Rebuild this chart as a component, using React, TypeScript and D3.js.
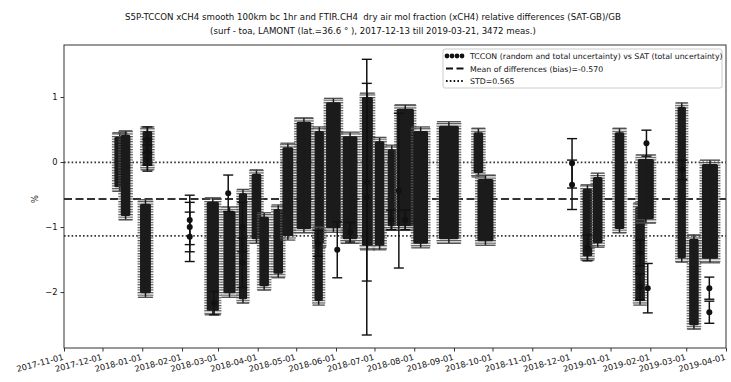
import React, { useEffect, useRef } from "react";
import * as d3 from "d3";

// blobs of many overlapping error bars: [first day, last day, top of bars, bottom of bars] in %
const clusters: [string, string, number, number][] = [
  ["2017-12-13", "2017-12-16", 0.45, -0.45],
  ["2017-12-18", "2017-12-20", 0.48, -0.89],
  ["2018-01-04", "2018-01-06", 0.54, -0.12],
  ["2018-01-02", "2018-01-05", -0.58, -2.08],
  ["2018-02-23", "2018-02-27", -0.55, -2.35],
  ["2018-03-08", "2018-03-12", -0.69, -2.08],
  ["2018-03-20", "2018-03-21", -0.42, -2.17],
  ["2018-03-30", "2018-04-01", -0.12, -1.25],
  ["2018-04-05", "2018-04-07", -0.78, -1.97],
  ["2018-04-16", "2018-04-18", -0.66, -1.78],
  ["2018-04-23", "2018-04-26", 0.29, -1.2],
  ["2018-05-04", "2018-05-10", 0.68, -1.09],
  ["2018-05-18", "2018-05-20", 0.54, -1.31],
  ["2018-05-18", "2018-05-19", -1.0, -2.2],
  ["2018-05-27", "2018-06-02", 0.98, -1.08],
  ["2018-06-09", "2018-06-15", 0.46, -1.25],
  ["2018-06-24", "2018-06-27", 1.06, -1.35],
  ["2018-07-04", "2018-07-06", 0.38, -1.35],
  ["2018-07-14", "2018-07-15", 0.26, -1.05],
  ["2018-07-21", "2018-07-29", 0.88, -1.05],
  ["2018-08-03", "2018-08-09", 0.54, -1.32],
  ["2018-08-23", "2018-09-02", 0.62, -1.25],
  ["2018-09-19", "2018-09-21", 0.52, -0.23],
  ["2018-09-22", "2018-09-29", -0.2, -1.28],
  ["2018-12-13", "2018-12-15", -0.35, -1.51],
  ["2018-12-21", "2018-12-23", -0.17, -1.31],
  ["2019-01-07", "2019-01-09", 0.52, -1.09],
  ["2019-01-23", "2019-01-25", -0.63, -2.2],
  ["2019-01-25", "2019-02-01", 0.11, -0.94],
  ["2019-02-25", "2019-02-26", 0.91, -1.54],
  ["2019-03-06", "2019-03-08", -1.12, -2.57],
  ["2019-03-16", "2019-03-23", 0.03, -1.55],
];

// single visible measurements: [day, difference %, uncertainty %]
const points: [string, number, number][] = [
  ["2018-01-05", 0.34, 0.2],
  ["2018-01-05", 0.15, 0.2],
  ["2018-01-05", 0.06, 0.2],
  ["2018-02-07", -0.89, 0.38],
  ["2018-02-07", -1.0, 0.38],
  ["2018-02-07", -1.15, 0.38],
  ["2018-02-26", -2.17, 0.18],
  ["2018-03-09", -0.48, 0.28],
  ["2018-03-20", -1.0, 0.38],
  ["2018-03-20", -1.55, 0.38],
  ["2018-05-18", -1.25, 0.2],
  ["2018-06-02", -1.35, 0.43],
  ["2018-06-12", -1.08, 0.15],
  ["2018-06-25", -0.54, 2.12],
  ["2018-06-25", -0.31, 1.52],
  ["2018-07-14", -0.89, 0.15],
  ["2018-07-20", -0.44, 1.19],
  ["2018-07-25", -0.89, 0.15],
  ["2018-12-02", -0.02, 0.38],
  ["2018-12-02", -0.35, 0.38],
  ["2018-12-14", -1.32, 0.2],
  ["2019-01-24", -1.4, 0.2],
  ["2019-01-24", -1.92, 0.2],
  ["2019-01-29", 0.29, 0.2],
  ["2019-01-30", -1.94, 0.38],
  ["2019-02-26", -0.12, 0.15],
  ["2019-03-19", -1.94, 0.17],
  ["2019-03-19", -2.31, 0.17],
];

const meanBias = -0.57;
const stdDev = 0.565;
const yTicks = [1, 0, -1, -2];
const xTicks = [
  "2017-11-01", "2017-12-01", "2018-01-01", "2018-02-01", "2018-03-01", "2018-04-01",
  "2018-05-01", "2018-06-01", "2018-07-01", "2018-08-01", "2018-09-01", "2018-10-01",
  "2018-11-01", "2018-12-01", "2019-01-01", "2019-02-01", "2019-03-01", "2019-04-01",
];
const titleLines = [
  "S5P-TCCON xCH4 smooth 100km bc 1hr and FTIR.CH4  dry air mol fraction (xCH4) relative differences (SAT-GB)/GB",
  "(surf - toa, LAMONT (lat.=36.6 \u00b0 ), 2017-12-13 till 2019-03-21, 3472 meas.)",
];
const legendLabels = [
  "TCCON (random and total uncertainty) vs SAT (total uncertainty)",
  "Mean of differences (bias)=-0.570",
  "STD=0.565",
];

const W = 731;
const H = 382;
const margin = { left: 64, right: 5, top: 45, bottom: 34 };
const font = "'DejaVu Sans', sans-serif";

export default function App() {
  const ref = useRef<SVGSVGElement>(null);

  useEffect(() => {
    const svg = d3.select(ref.current);
    svg.selectAll("*").remove();
    const parse = d3.timeParse("%Y-%m-%d");
    const plotW = W - margin.left - margin.right;
    const plotH = H - margin.top - margin.bottom;

    const x = d3.scaleTime()
      .domain([parse("2017-11-01")!, parse("2019-04-01")!])
      .range([0, plotW]);
    const y = d3.scaleLinear().domain([-2.86, 1.8]).range([plotH, 0]);

    const defs = svg.append("defs");
    const pat = defs.append("pattern")
      .attr("id", "caps")
      .attr("patternUnits", "userSpaceOnUse")
      .attr("width", 6).attr("height", 2.6);
    pat.append("rect").attr("width", 6).attr("height", 1.2).attr("fill", "#555");

    const g = svg.append("g").attr("transform", `translate(${margin.left},${margin.top})`);

    // title
    svg.selectAll(".title")
      .data(titleLines)
      .join("text")
      .attr("x", 373)
      .attr("y", (d, i) => 20 + i * 14)
      .attr("text-anchor", "middle")
      .attr("font-family", font)
      .attr("font-size", 8.65)
      .attr("fill", "#111")
      .style("white-space", "pre")
      .text(d => d);

    // reference lines
    g.append("line")
      .attr("x1", 0).attr("x2", plotW)
      .attr("y1", y(meanBias)).attr("y2", y(meanBias))
      .attr("stroke", "#333").attr("stroke-width", 2)
      .attr("stroke-dasharray", "8,3.5");
    [meanBias + stdDev, meanBias - stdDev].forEach(v => {
      g.append("line")
        .attr("x1", 0).attr("x2", plotW)
        .attr("y1", y(v)).attr("y2", y(v))
        .attr("stroke", "#333").attr("stroke-width", 1.8)
        .attr("stroke-dasharray", "1.6,2.2");
    });

    // dense error bar blobs
    const blobs = g.append("g");
    clusters.forEach(([d0, d1, hi, lo]) => {
      const xa = x(parse(d0)!);
      const xb = x(parse(d1)!);
      blobs.append("rect")
        .attr("x", xa - 6).attr("width", xb - xa + 12)
        .attr("y", y(hi)).attr("height", y(lo) - y(hi))
        .attr("fill", "url(#caps)");
      blobs.append("rect")
        .attr("x", xa - 3.5).attr("width", xb - xa + 7)
        .attr("y", y(hi) + 4).attr("height", Math.max(0, y(lo) - y(hi) - 8))
        .attr("rx", 1.5)
        .attr("fill", "#1b1b1b");
      blobs.append("line")
        .attr("x1", (xa + xb) / 2).attr("x2", (xa + xb) / 2)
        .attr("y1", y(hi)).attr("y2", y(lo))
        .attr("stroke", "#1b1b1b").attr("stroke-width", 1.5);
      [hi, lo].forEach(v => {
        blobs.append("line")
          .attr("x1", xa - 5.5).attr("x2", xb + 5.5)
          .attr("y1", y(v)).attr("y2", y(v))
          .attr("stroke", "#444").attr("stroke-width", 1.2);
      });
    });

    // individual error bars
    const pts = g.append("g");
    points.forEach(([d, v, e]) => {
      const px = x(parse(d)!);
      pts.append("line")
        .attr("x1", px).attr("x2", px)
        .attr("y1", y(v + e)).attr("y2", y(v - e))
        .attr("stroke", "#111").attr("stroke-width", 1.5);
      [v + e, v - e].forEach(c => {
        pts.append("line")
          .attr("x1", px - 5).attr("x2", px + 5)
          .attr("y1", y(c)).attr("y2", y(c))
          .attr("stroke", "#111").attr("stroke-width", 1.4);
      });
      pts.append("circle").attr("cx", px).attr("cy", y(v)).attr("r", 3).attr("fill", "#111");
    });

    // axes
    const yAxis = g.append("g").call(
      d3.axisLeft(y).tickValues(yTicks).tickSize(3.5).tickPadding(3)
        .tickFormat(d => d3.format("d")(d as number).replace("-", "\u2212"))
    );
    const xAxis = g.append("g").attr("transform", `translate(0,${plotH})`).call(
      d3.axisBottom(x).tickValues(xTicks.map(t => parse(t)!)).tickSize(3.5)
        .tickFormat(d3.timeFormat("%Y-%m-%d") as any)
    );
    [xAxis, yAxis].forEach(a => {
      a.select(".domain").remove();
      a.selectAll("line").attr("stroke", "#333");
      a.selectAll("text").attr("font-family", font).attr("font-size", 8.3).attr("fill", "#111");
    });
    xAxis.selectAll("text")
      .attr("text-anchor", "end")
      .attr("dy", "0.7em")
      .attr("y", 0)
      .attr("transform", "translate(-2,6) rotate(-15)");

    // frame
    g.append("rect")
      .attr("width", plotW).attr("height", plotH)
      .attr("fill", "none").attr("stroke", "#333").attr("stroke-width", 1);

    svg.append("text")
      .attr("transform", `translate(38,${margin.top + y(meanBias)}) rotate(-90)`)
      .attr("text-anchor", "middle")
      .attr("font-family", font).attr("font-size", 8.3).attr("fill", "#111")
      .text("%");

    // legend
    const lg = svg.append("g").attr("transform", "translate(443,49)");
    lg.append("rect")
      .attr("width", 279).attr("height", 39).attr("rx", 2)
      .attr("fill", "white").attr("fill-opacity", 0.8)
      .attr("stroke", "#ccc");
    [4, 9, 14, 19].forEach(cx => {
      lg.append("circle").attr("cx", cx).attr("cy", 7).attr("r", 2.4).attr("fill", "#111");
    });
    lg.append("line")
      .attr("x1", 3).attr("x2", 21).attr("y1", 19.5).attr("y2", 19.5)
      .attr("stroke", "#111").attr("stroke-width", 2).attr("stroke-dasharray", "7,3.5");
    lg.append("line")
      .attr("x1", 3).attr("x2", 21).attr("y1", 32).attr("y2", 32)
      .attr("stroke", "#111").attr("stroke-width", 1.8).attr("stroke-dasharray", "1.6,2.2");
    lg.selectAll(".lbl")
      .data(legendLabels)
      .join("text")
      .attr("x", 27)
      .attr("y", (d, i) => 10 + i * 12.5)
      .attr("font-family", font).attr("font-size", 7.8).attr("fill", "#111")
      .text(d => d);
  }, []);

  return <svg ref={ref} width={W} height={H} style={{ display: "block", position: "absolute", left: 0, top: 0, background: "white" }} />;
}
